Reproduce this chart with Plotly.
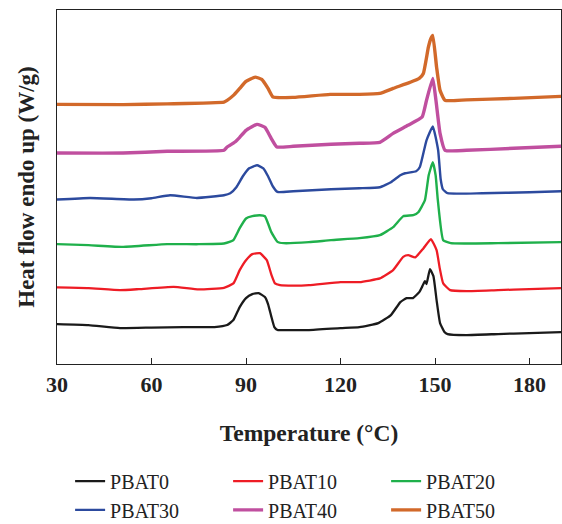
import plotly.graph_objects as go

# Temperature (°C) and heat flow (arbitrary units, curves stacked/offset)
names = ["PBAT0", "PBAT10", "PBAT20", "PBAT30", "PBAT40", "PBAT50"]
colors = ["#1a1a1a", "#ee1c25", "#1fb04b", "#2c4a9e", "#c04f9f", "#d2692a"]
widths = [2.3, 2.3, 2.4, 2.4, 3.4, 3.4]

t_pbat0 = [30, 40, 50, 60, 70, 80, 84, 86, 88, 90, 92, 94, 96, 97, 98, 99, 100, 102, 110, 120, 126,
           132, 136, 139, 141, 143, 145, 146, 146.8, 147.3, 148.4, 149.5, 150.5, 151.6, 153, 154,
           160, 170, 180, 190]
hf_pbat0 = [40, 39, 36, 36.5, 37, 37, 39, 44, 57, 66, 70, 71, 67, 60, 48, 37, 34, 34, 34, 36, 37,
            41, 49, 62, 66, 66, 72, 78, 83, 80, 95, 88, 64, 41, 32, 30,
            29, 30, 31, 32]

t_pbat10 = [30, 40, 50, 56, 67, 75, 83, 86, 88, 90, 92, 94.4, 96.6, 98.1, 99.2, 100.8, 105, 110, 120,
            126, 132.5, 136.7, 139.9, 141.5, 143.7, 146.3, 148.7, 150.5, 151.5, 152.6, 154.8,
            160, 170, 180, 190]
hf_pbat10 = [76.7, 76, 74, 75, 77.3, 74.7, 76.3, 80.7, 94, 104, 110, 111, 104, 89, 80.7, 79, 78.5, 79, 82,
             82, 85.7, 94, 107.3, 109, 106.7, 115.7, 125, 114, 96, 80.7, 74,
             73, 74, 75, 76]

t_pbat20 = [30, 40, 51, 65, 75, 83, 85, 86, 88, 90, 92, 94.4, 96, 97, 98, 100, 102, 110, 117, 126,
            132.5, 136.7, 139.9, 143.1, 144.7, 146.8, 148, 149.3, 150.2, 150.9, 152.6, 155, 170, 190]
hf_pbat20 = [120, 119, 117.3, 120, 120, 120.7, 122.5, 124, 136, 145.7, 148, 149, 148, 140.7, 132.3, 122.3, 121, 122, 124, 126,
             129, 137, 148, 149, 152, 164, 189, 202, 189, 164, 124, 121, 121, 122]

t_pbat30 = [30, 40.5, 54.4, 60, 65.9, 74.4, 83, 85, 87, 89, 91, 93.5, 95.5, 97, 98.5, 100, 105, 117,
            126, 132.5, 136, 139, 140.5, 144, 145.2, 147.3, 149.3, 151, 151.8, 152.5, 154, 165, 180, 190]
hf_pbat30 = [164.7, 166.3, 164.7, 166, 169, 166.3, 169, 171, 177.3, 188, 196, 199, 196, 188, 178, 172.3, 173, 175,
             176, 177, 182, 189, 191, 193, 197.3, 224, 238, 214, 185, 175, 171, 171, 172, 173]

t_pbat40 = [30, 51, 65, 83, 84, 86.5, 88, 90, 93.5, 96, 98, 99.8, 105, 117, 126, 132.5, 136.7, 141.4,
            145.9, 147.3, 149.3, 150.3, 151.6, 153.2, 160, 175, 190]
hf_pbat40 = [211.3, 211.3, 213, 214, 217.3, 222.3, 227, 234, 240, 237, 226, 217.3, 218, 220, 221, 222, 231, 239,
             247.3, 264, 286, 264, 231, 214, 214, 216, 218]

t_pbat50 = [30, 51, 65, 83, 84, 86, 88, 90, 92.9, 95, 97, 98.6, 105, 116.7, 126, 132.5, 136.7, 142,
            145, 146.3, 147.9, 148.7, 149.3, 150.5, 151.6, 153.2, 160, 175, 190]
hf_pbat50 = [260, 259.7, 260.5, 262.3, 264, 269, 276, 283, 287.3, 285, 276, 267.3, 267, 270, 270, 271, 276, 282,
             286, 291, 317.3, 326, 329, 297.3, 274, 264, 264.5, 266, 268]

temps = [t_pbat0, t_pbat10, t_pbat20, t_pbat30, t_pbat40, t_pbat50]
flows = [hf_pbat0, hf_pbat10, hf_pbat20, hf_pbat30, hf_pbat40, hf_pbat50]

x_ticks = [30, 60, 90, 120, 150, 180]

SERIF = "Liberation Serif, Times New Roman, serif"
INK = "#222222"

fig = go.Figure()
for i, (n, c, w, t, f) in enumerate(zip(names, colors, widths, temps, flows)):
    fig.add_trace(go.Scatter(
        x=t, y=f, name=n, mode="lines",
        line=dict(color=c, width=w, shape="spline", smoothing=0.4),
        legend="legend" if i < 3 else "legend2",
    ))

legend_common = dict(
    orientation="h", xanchor="left", yanchor="middle",
    font=dict(family=SERIF, size=20, color=INK),
    bgcolor="rgba(0,0,0,0)", borderwidth=0,
    entrywidth=113, entrywidthmode="pixels",
    itemclick=False, itemdoubleclick=False,
)

fig.update_layout(
    width=562, height=524,
    margin=dict(l=57, r=1, t=10, b=160, autoexpand=False),
    paper_bgcolor="white", plot_bgcolor="white",
    showlegend=True,
    legend=dict(x=0.026, y=-0.331, **legend_common),
    legend2=dict(x=0.026, y=-0.412, **legend_common),
    xaxis=dict(
        range=[30, 190], tickvals=x_ticks, ticktext=[str(v) for v in x_ticks],
        ticks="inside", ticklen=6, tickwidth=1.3, tickcolor=INK,
        showline=True, linecolor=INK, linewidth=1.4, mirror=True,
        showgrid=False, zeroline=False, automargin=False,
        tickfont=dict(family=SERIF, size=22, color=INK, weight="bold"),
        title=dict(text="Temperature (°C)", font=dict(family=SERIF, size=23.5, color=INK, weight="bold"),
                   standoff=28),
    ),
    yaxis=dict(
        range=[0, 354.5], showticklabels=False, ticks="",
        showline=True, linecolor=INK, linewidth=1.4, mirror=True,
        showgrid=False, zeroline=False, automargin=False,
        title=dict(text="Heat flow endo up (W/g)", font=dict(family=SERIF, size=23, color=INK, weight="bold"),
                   standoff=14),
    ),
)

fig.write_html("out.html")
